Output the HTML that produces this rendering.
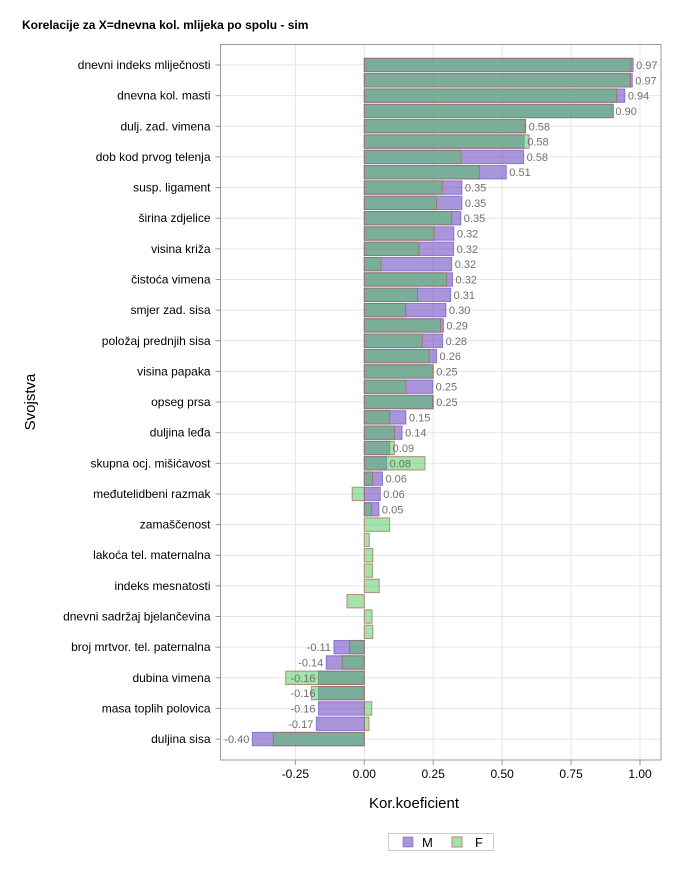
<!DOCTYPE html>
<html><head><meta charset="utf-8"><style>
body{margin:0;background:#fff;}
svg{display:block;font-family:"Liberation Sans",sans-serif;}
</style></head><body>
<svg id="chart" width="680" height="869" xmlns="http://www.w3.org/2000/svg"></svg>
<script>
const categories = ["dnevni indeks mliječnosti","","dnevna kol. masti","","dulj. zad. vimena","","dob kod prvog telenja","","susp. ligament","","širina zdjelice","","visina križa","","čistoća vimena","","smjer zad. sisa","","položaj prednjih sisa","","visina papaka","","opseg prsa","","duljina leđa","","skupna ocj. mišićavost","","međutelidbeni razmak","","zamaščenost","","lakoća tel. maternalna","","indeks mesnatosti","","dnevni sadržaj bjelančevina","","broj mrtvor. tel. paternalna","","dubina vimena","","masa toplih polovica","","duljina sisa"];
const mValues = [0.975,0.972,0.945,0.90,0.585,0.58,0.578,0.515,0.354,0.354,0.35,0.325,0.324,0.317,0.32,0.313,0.296,0.287,0.284,0.262,0.25,0.248,0.25,0.151,0.137,0.092,0.081,0.066,0.058,0.053,null,null,null,null,null,null,null,null,-0.11,-0.138,-0.166,-0.166,-0.166,-0.174,-0.406];
const fValues = [0.967,0.965,0.915,0.904,0.583,0.598,0.351,0.418,0.283,0.262,0.317,0.253,0.198,0.06,0.299,0.193,0.15,0.277,0.21,0.235,0.249,0.151,0.247,0.092,0.11,0.109,0.22,0.03,-0.044,0.027,0.092,0.018,0.031,0.03,0.054,-0.063,0.028,0.031,-0.054,-0.08,-0.285,-0.192,0.027,0.017,-0.33];
const mLabels = ["0.97","0.97","0.94","0.90","0.58","0.58","0.58","0.51","0.35","0.35","0.35","0.32","0.32","0.32","0.32","0.31","0.30","0.29","0.28","0.26","0.25","0.25","0.25","0.15","0.14","0.09","0.08","0.06","0.06","0.05","","","","","","","","","-0.11","-0.14","-0.16","-0.16","-0.16","-0.17","-0.40"];
const xTicks = [-0.25,0,0.25,0.5,0.75,1.0];
const xTickLabels = ["-0.25","0.00","0.25","0.50","0.75","1.00"];

const NS="http://www.w3.org/2000/svg";
const svg=document.getElementById('chart');
const L=220.5,R=661,T=44.5,B=760;
const x=v=>364.3+(v-0)*(640-364.3);
const rowC=i=>65+i*15.32;
const bh=13.4;
function mk(tag,attrs,parent){const e=document.createElementNS(NS,tag);for(const k in attrs)e.setAttribute(k,attrs[k]);(parent||svg).appendChild(e);return e;}

let t=mk('text',{x:22,y:29,'font-size':12,'font-weight':'bold',fill:'#000'});t.textContent='Korelacije za X=dnevna kol. mlijeka po spolu - sim';



// grid
const grid=mk('g',{});


xTicks.forEach(v=>{mk('line',{x1:x(v),x2:x(v),y1:T,y2:B,stroke:'#e6e6e6','stroke-width':1},grid);});
categories.forEach((c,i)=>{if(i%2===0)mk('line',{x1:L,x2:R,y1:rowC(i),y2:rowC(i),stroke:'#e6e6e6','stroke-width':1},grid);});

// bars
const bars=mk('g',{});


categories.forEach((c,i)=>{
  const y=rowC(i)-bh/2;
  const m=mValues[i];
  if(m!==null){
    const r=mk('rect',{x:Math.min(x(0),x(m)),y:y,width:Math.abs(x(m)-x(0)),height:bh,fill:'rgb(115,78,193)','fill-opacity':0.6,stroke:'#6a58c8','stroke-opacity':0.7,'stroke-width':1},bars);
    
    
  }
  const f=fValues[i];
  const g=mk('rect',{x:Math.min(x(0),x(f)),y:y,width:Math.abs(x(f)-x(0)),height:bh,fill:'rgb(75,199,89)','fill-opacity':0.5,stroke:'#a06850','stroke-opacity':0.7,'stroke-width':1},bars);
  
  
  if(m!==null&&mLabels[i]){
    const neg=m<0;
    const lt=mk('text',{x:neg?x(m)-3:x(m)+3,y:rowC(i)+4,'font-size':11,fill:'#707070','text-anchor':neg?'end':'start'},bars);
    lt.textContent=mLabels[i];
    
    
  }
});

// frame
const fr=mk('rect',{x:L,y:T,width:R-L,height:B-T,fill:'none',stroke:'#999','stroke-width':1});



// y axis
const ya=mk('g',{});


categories.forEach((c,i)=>{
  if(i%2!==0)return;
  mk('line',{x1:L-5,x2:L,y1:rowC(i),y2:rowC(i),stroke:'#999'},ya);
  const tl=mk('text',{x:L-10,y:rowC(i)+4,'font-size':12,'text-anchor':'end',fill:'#000'},ya);
  tl.textContent=c;
  
  
});
const yt=mk('text',{x:0,y:0,'font-size':15,'text-anchor':'middle',fill:'#000',transform:'translate(35,402) rotate(-90)'});
yt.textContent='Svojstva';



// x axis
const xa=mk('g',{});


xTicks.forEach((v,k)=>{
  mk('line',{x1:x(v),x2:x(v),y1:B,y2:B+5,stroke:'#999'},xa);
  const tl=mk('text',{x:x(v),y:B+18,'font-size':12,'text-anchor':'middle',fill:'#000'},xa);
  tl.textContent=xTickLabels[k];
  
  
});
const xt=mk('text',{x:414,y:808,'font-size':15,'text-anchor':'middle',fill:'#000'});
xt.textContent='Kor.koeficient';



// legend
const lg=mk('g',{});


mk('rect',{x:388.5,y:833.5,width:105,height:17,fill:'#fff',stroke:'#ccc'},lg);
const s1=mk('rect',{x:403,y:837,width:10,height:10,fill:'rgb(115,78,193)','fill-opacity':0.6,stroke:'#6a58c8','stroke-opacity':0.5},lg);


let lt1=mk('text',{x:422,y:847,'font-size':13,fill:'#000'},lg);lt1.textContent='M';


const s2=mk('rect',{x:452,y:837,width:10,height:10,fill:'rgb(75,199,89)','fill-opacity':0.5,stroke:'#c08070'},lg);


let lt2=mk('text',{x:475,y:847,'font-size':13,fill:'#000'},lg);lt2.textContent='F';


</script>
</body></html>
